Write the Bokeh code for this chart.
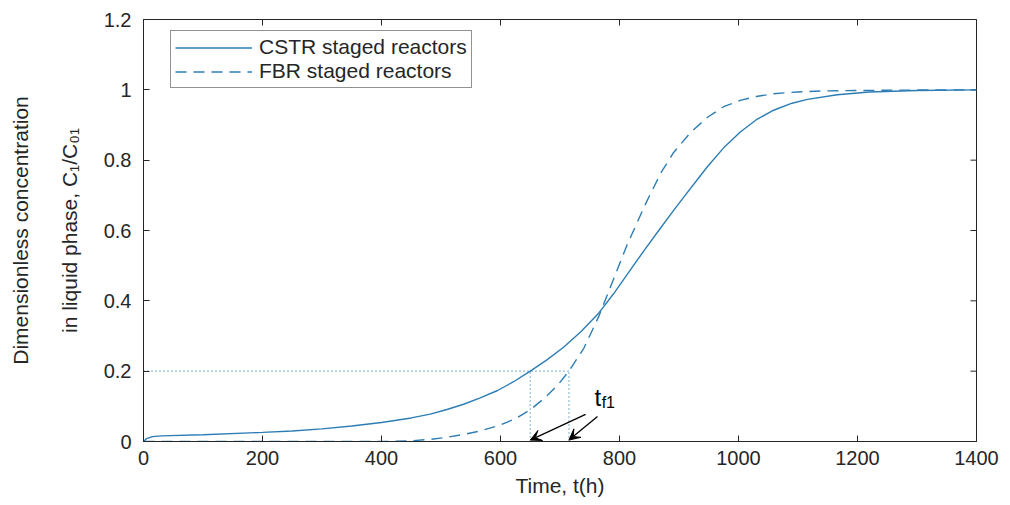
import numpy as np
from bokeh.plotting import figure
from bokeh.models import (Range1d, Legend, LegendItem, Title, Arrow, VeeHead)
from bokeh.embed import file_html
from bokeh.resources import INLINE
from bokeh.core.properties import value

# ---- data ----
t_cstr = [0, 5, 15, 30, 100, 200, 250, 300, 350, 400, 450, 482, 510, 538, 566, 595,
          622, 650, 678, 706, 735, 765, 790, 813, 840, 869, 890, 908, 930, 948, 975,
          1003, 1030, 1059, 1090, 1116, 1166, 1220, 1300, 1400]
c_cstr = [0, 0.008, 0.014, 0.016, 0.019, 0.026, 0.030, 0.036, 0.044, 0.054, 0.067,
          0.078, 0.091, 0.106, 0.124, 0.145, 0.17, 0.2, 0.232, 0.268, 0.312, 0.365,
          0.42, 0.475, 0.54, 0.607, 0.655, 0.695, 0.743, 0.782, 0.835, 0.88, 0.915,
          0.942, 0.962, 0.973, 0.986, 0.994, 0.998, 1.0]
t_fbr = [0, 200, 400, 450, 482, 510, 538, 566, 600, 625, 650, 675, 696, 715, 740, 765,
         785, 813, 845, 870, 891, 920, 948, 975, 1003, 1030, 1059, 1100, 1143, 1250, 1400]
c_fbr = [0, 0, 0, 0.002, 0.006, 0.012, 0.02, 0.03, 0.047, 0.065, 0.09, 0.125, 0.16,
         0.2, 0.265, 0.355, 0.44, 0.56, 0.68, 0.765, 0.822, 0.88, 0.922, 0.952, 0.97,
         0.981, 0.989, 0.994, 0.997, 0.999, 1.0]

x_ticks = [0, 200, 400, 600, 800, 1000, 1200, 1400]
y_ticks = [0, 0.2, 0.4, 0.6, 0.8, 1.0, 1.2]
y_tick_labels = ["0", "0.2", "0.4", "0.6", "0.8", "1", "1.2"]

threshold = 0.2          # C1/C01 breakthrough level
tf_cstr = 650            # breakthrough time, CSTR
tf_fbr = 715             # breakthrough time, FBR
tf_text_x = 758          # label anchor for t_f1
tf_text_y = 0.125
arrow_starts = [(743, 0.077), (763, 0.071)]

series_names = ["CSTR staged reactors", "FBR staged reactors"]
ylabel_lines = ["Dimensionless concentration", "in liquid phase, C\u2081/C\u2080\u2081"]

FONT = "Liberation Sans"
BLUE = "#2d7db5"
AX = "#262626"
X_MAX, Y_MAX = 1400, 1.2

p = figure(width=1010, height=505, x_range=Range1d(0, X_MAX), y_range=Range1d(0, Y_MAX),
           output_backend="svg", toolbar_location=None,
           min_border_left=143, min_border_right=34, min_border_top=19, min_border_bottom=64)
p.background_fill_color = "white"
p.border_fill_color = "white"
p.outline_line_color = AX
p.outline_line_width = 1
p.xgrid.grid_line_color = None
p.ygrid.grid_line_color = None

for ax in (p.xaxis[0], p.yaxis[0]):
    ax.axis_line_color = AX
    ax.major_tick_line_color = AX
    ax.major_tick_in = 6
    ax.major_tick_out = 0
    ax.minor_tick_line_color = None
    ax.major_label_text_font = FONT
    ax.major_label_text_font_size = "20px"
    ax.major_label_text_color = AX

p.xaxis.ticker = x_ticks
p.yaxis.ticker = y_ticks
p.yaxis.major_label_overrides = {v: s for v, s in zip(y_ticks, y_tick_labels)}
p.xaxis.major_label_standoff = 9
p.yaxis.major_label_standoff = 12
p.xaxis.axis_label = "Time, t(h)"
p.xaxis.axis_label_text_font = FONT
p.xaxis.axis_label_text_font_size = "21px"
p.xaxis.axis_label_text_font_style = "normal"
p.xaxis.axis_label_text_color = AX
p.xaxis.axis_label_standoff = 6

# box ticks on top and right edges (half of each dash is clipped by the frame)
p.scatter(x=x_ticks, y=[Y_MAX] * len(x_ticks), marker="dash", angle=np.pi / 2,
          size=12, line_color=AX, line_width=1)
p.scatter(x=[X_MAX] * len(y_ticks), y=y_ticks, marker="dash",
          size=12, line_color=AX, line_width=1)

# y-axis label as two stacked left titles (nearest first)
for txt, so in ((ylabel_lines[1], 39), (ylabel_lines[0], 9)):
    p.add_layout(Title(text=txt, align="center", text_font=FONT, text_font_size="21px",
                       text_font_style="normal", text_color=AX, standoff=so), "left")

# guide lines
p.line([0, tf_fbr], [threshold, threshold], line_color=BLUE, line_dash="1 3", line_width=1.2)
p.segment(x0=[tf_cstr, tf_fbr], y0=[0, 0], x1=[tf_cstr, tf_fbr], y1=[threshold, threshold],
          line_color=BLUE, line_dash="1 3", line_width=1.2)

r1 = p.line(t_cstr, c_cstr, line_color=BLUE, line_width=1.4)
r2 = p.line(t_fbr, c_fbr, line_color=BLUE, line_width=1.4, line_dash="11 7")

# arrows to breakthrough times
for (xs, ys), xe in zip(arrow_starts, [tf_cstr, tf_fbr]):
    p.add_layout(Arrow(x_start=xs, y_start=ys, x_end=xe, y_end=0.004,
                       line_color="black", line_width=1.3,
                       end=VeeHead(size=11, fill_color="black", line_color="black")))

p.text(x=[tf_text_x], y=[tf_text_y], text=["t"], text_font=value(FONT),
       text_font_size="24px", text_color="black", text_baseline="alphabetic")
p.text(x=[tf_text_x + 12], y=[tf_text_y - 0.014], text=["f1"], text_font=value(FONT),
       text_font_size="16px", text_color="black", text_baseline="alphabetic")

legend = Legend(items=[LegendItem(label=series_names[0], renderers=[r1]),
                       LegendItem(label=series_names[1], renderers=[r2])],
                location=(27, 353))
legend.label_text_font = FONT
legend.label_text_font_size = "21px"
legend.label_text_color = AX
legend.glyph_width = 77
legend.glyph_height = 21
legend.label_height = 21
legend.label_standoff = 7
legend.padding = 4
legend.spacing = 0
legend.margin = 0
legend.border_line_color = AX
legend.border_line_width = 1
legend.background_fill_alpha = 1
p.add_layout(legend)

open("out.html", "w").write(file_html(p, INLINE))
